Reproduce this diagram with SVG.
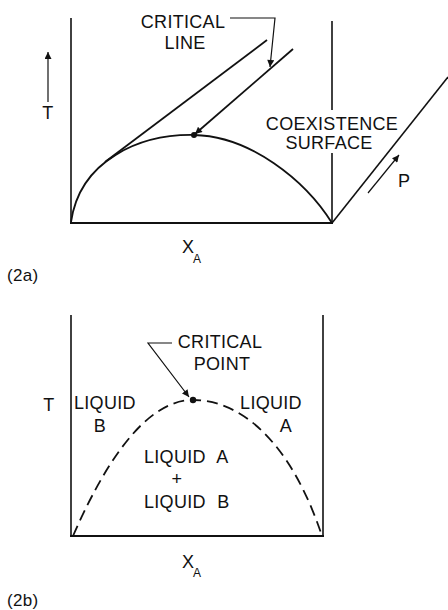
<svg xmlns="http://www.w3.org/2000/svg" width="448" height="610" viewBox="0 0 448 610">
<style>
text{font-family:"Liberation Sans",Arial,sans-serif;font-size:18px;fill:#111;letter-spacing:0.3px}
.ax{stroke:#111;stroke-width:1.6;fill:none}
.cv{stroke:#111;stroke-width:1.8;fill:none}
.th{stroke:#111;stroke-width:1.2;fill:none}
.ds{stroke:#111;stroke-width:1.8;fill:none;stroke-dasharray:11 6}
.mid{text-anchor:middle}
.sub{font-size:12px}
</style>
<defs>
<marker id="ah" viewBox="0 0 10 10" refX="10" refY="5" markerWidth="8" markerHeight="7" markerUnits="userSpaceOnUse" orient="auto">
<path d="M0,0 L10,5 L0,10 Z" fill="#111"/>
</marker>
</defs>
<rect width="448" height="610" fill="#fff"/>

<!-- Figure 2a -->
<g id="frame2a">
<line class="ax" x1="71" y1="18" x2="71" y2="223"/>
<line class="ax" x1="332" y1="21" x2="332" y2="110"/>
<line class="ax" x1="332" y1="153" x2="332" y2="223"/>
<line class="cv" x1="70" y1="223" x2="333" y2="223"/>
<line class="ax" x1="332" y1="223" x2="448" y2="77"/>
</g>
<g id="coexistence-curve">
<path class="cv" d="M71,222 C80,160 140,134 194,135 C250,136 305,180 332,223"/>
<circle cx="194" cy="135" r="3" fill="#111"/>
</g>
<g id="critical-line">
<line class="cv" x1="105" y1="162" x2="267" y2="40"/>
</g>
<g id="label-critical-line">
<text class="mid" x="183" y="28">CRITICAL</text>
<text class="mid" x="185" y="49">LINE</text>
</g>
<g id="label-coexistence">
<text class="mid" x="332" y="130">COEXISTENCE</text>
<text class="mid" x="329" y="149">SURFACE</text>
</g>
<g id="axis-T-2a">
<text class="mid" x="48" y="119">T</text>
</g>
<g id="axis-P">
<text x="398" y="187">P</text>
</g>
<g id="axis-X-2a">
<text x="182" y="253">X</text><text class="sub" x="193" y="263">A</text>
</g>
<g id="caption-2a">
<text x="7" y="281" style="font-size:17px">(2a)</text>
</g>

<!-- Figure 2b -->
<g id="frame2b">
<line class="ax" x1="71" y1="315" x2="71" y2="537"/>
<line class="ax" x1="323" y1="315" x2="323" y2="537"/>
<line class="cv" x1="70" y1="536" x2="324" y2="536"/>
</g>
<g id="miscibility-curve">
<path class="ds" d="M73,536 Q132.5,400 193,400 C240,400 290,440 322,536"/>
<circle cx="193" cy="400" r="3.2" fill="#111"/>
</g>
<g id="label-critical-point">
<text class="mid" x="220" y="348">CRITICAL</text>
<text class="mid" x="222" y="370">POINT</text>
</g>
<g id="axis-T-2b">
<text class="mid" x="49" y="411">T</text>
</g>
<g id="region-liquid-b">
<text x="74" y="409">LIQUID</text>
<text class="mid" x="100" y="432">B</text>
</g>
<g id="region-liquid-a">
<text class="mid" x="271" y="409">LIQUID</text>
<text class="mid" x="286" y="432">A</text>
</g>
<g id="region-two-phase">
<text x="144" y="463">LIQUID <tspan dx="6">A</tspan></text>
<text class="mid" x="177" y="485">+</text>
<text x="144" y="508">LIQUID <tspan dx="6">B</tspan></text>
</g>
<g id="axis-X-2b">
<text x="182" y="568">X</text><text class="sub" x="193" y="577">A</text>
</g>
<g id="caption-2b">
<text x="7" y="606" style="font-size:17px">(2b)</text>
</g>

<!-- Connectors -->
<g id="connectors">
<line class="th" x1="48" y1="102" x2="48" y2="52" marker-end="url(#ah)"/>
<line class="cv" x1="293" y1="49" x2="195" y2="134" marker-end="url(#ah)"/>
<polyline class="th" points="230,18 275,18 270,67" marker-end="url(#ah)"/>
<line class="th" x1="368" y1="193" x2="399" y2="155" marker-end="url(#ah)"/>
<polyline class="th" points="172,343 148,343 189,397" marker-end="url(#ah)"/>
</g>
</svg>
